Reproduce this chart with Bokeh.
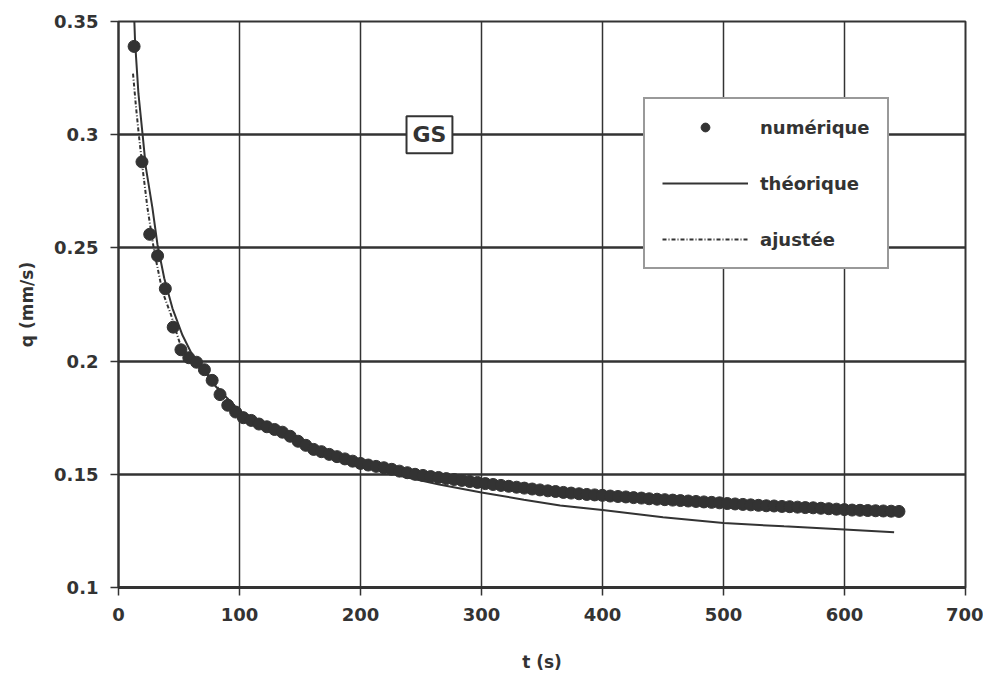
from bokeh.plotting import figure
from bokeh.models import Legend, LegendItem, Label, FixedTicker, NumeralTickFormatter, Range1d
from bokeh.embed import file_html
from bokeh.resources import INLINE

# ---- data ----
t_num = [12.9, 19.4, 25.8, 32.3, 38.7, 45.2, 51.6, 58.1, 64.5, 71.0,
         77.4, 83.9, 90.3, 96.8, 103.2, 109.7, 116.1, 122.6, 129.0, 135.5,
         141.9, 148.4, 154.8, 161.3, 167.7, 174.2, 180.6, 187.1, 193.5, 200.0,
         206.4, 212.9, 219.3, 225.8, 232.2, 238.7, 245.1, 251.6, 258.0, 264.5,
         270.9, 277.4, 283.8, 290.3, 296.7, 303.2, 309.6, 316.1, 322.5, 329.0,
         335.4, 341.9, 348.3, 354.8, 361.2, 367.7, 374.1, 380.6, 387.0, 393.5,
         399.9, 406.4, 412.8, 419.3, 425.7, 432.2, 438.6, 445.1, 451.5, 458.0,
         464.4, 470.9, 477.3, 483.8, 490.2, 496.7, 503.1, 509.6, 516.0, 522.5,
         528.9, 535.4, 541.8, 548.3, 554.7, 561.2, 567.6, 574.1, 580.5, 587.0,
         593.4, 599.9, 606.3, 612.8, 619.2, 625.7, 632.1, 638.6, 645.0]
q_num = [0.339, 0.288, 0.256, 0.2465, 0.232, 0.215, 0.205, 0.2015, 0.1995, 0.1962,
         0.1915, 0.1852, 0.1805, 0.1775, 0.1750, 0.1738, 0.1722, 0.1710, 0.1698, 0.1686,
         0.1668, 0.1646, 0.1628, 0.1610, 0.1600, 0.1588, 0.1578, 0.1568, 0.1558, 0.1548,
         0.1541, 0.1535, 0.1529, 0.1522, 0.1514, 0.1507, 0.1500, 0.1495, 0.1490, 0.1486,
         0.1481, 0.1477, 0.1473, 0.1468, 0.1464, 0.1459, 0.1455, 0.1451, 0.1447, 0.1443,
         0.1439, 0.1435, 0.1431, 0.1427, 0.1424, 0.1420, 0.1417, 0.1414, 0.1411, 0.1409,
         0.1407, 0.1404, 0.1402, 0.1400, 0.1397, 0.1395, 0.1392, 0.1390, 0.1388, 0.1386,
         0.1384, 0.1382, 0.1380, 0.1378, 0.1376, 0.1374, 0.1371, 0.1369, 0.1367, 0.1365,
         0.1363, 0.1361, 0.1360, 0.1358, 0.1357, 0.1355, 0.1353, 0.1352, 0.1350, 0.1348,
         0.1346, 0.1344, 0.1342, 0.1341, 0.1340, 0.1339, 0.1338, 0.1337, 0.1336]

t_theo = [12.9, 13.7, 16.5, 19.8, 22.6, 28.0, 32.2, 37.8, 44.6, 52.9, 61.2, 68.2, 80,
          100, 125, 150, 175, 200, 235, 265, 300, 335, 365, 400, 450, 500, 550, 600, 641]
q_theo = [0.353, 0.341, 0.318, 0.3007, 0.2856, 0.2678, 0.2515, 0.2366, 0.2233, 0.2114,
          0.2025, 0.1975, 0.1890, 0.1780, 0.1700, 0.1640, 0.1585, 0.1540, 0.1490, 0.1455,
          0.1420, 0.1388, 0.1362, 0.1342, 0.1310, 0.1285, 0.1270, 0.1256, 0.1244]

t_ajust = [12.0, 14.5, 17.0, 19.8, 23.9, 29.5, 36.3, 43.3, 50.2, 58.5, 66, 75, 85, 100,
           120, 150, 180, 200, 227, 260, 300, 350, 400, 450, 500, 550, 600, 645]
q_ajust = [0.327, 0.312, 0.299, 0.2856, 0.2678, 0.2485, 0.2307, 0.2206, 0.2087, 0.2013,
           0.1985, 0.1935, 0.1860, 0.1785, 0.1718, 0.1645, 0.1588, 0.1555, 0.1515, 0.1495,
           0.1470, 0.1440, 0.1415, 0.1395, 0.1378, 0.1363, 0.1350, 0.1340]

x_ticks = [0, 100, 200, 300, 400, 500, 600, 700]
y_ticks = [0.1, 0.15, 0.2, 0.25, 0.3, 0.35]
series_names = ["numérique", "théorique", "ajustée"]
tag_text = "GS"
tag_pos = (257, 0.30)

FONT = "DejaVu Sans"
INK = "#333333"

p = figure(width=983, height=674,
           x_range=Range1d(0, 700), y_range=Range1d(0.1, 0.35),
           output_backend="svg", toolbar_location=None,
           min_border_left=118, min_border_right=18,
           min_border_top=21, min_border_bottom=82)

p.background_fill_color = "white"
p.border_fill_color = "white"
p.outline_line_color = INK
p.outline_line_width = 2

# grids
p.xgrid.ticker = FixedTicker(ticks=x_ticks)
p.ygrid.ticker = FixedTicker(ticks=y_ticks)
p.xgrid.grid_line_color = INK
p.xgrid.grid_line_width = 1.5
p.ygrid.grid_line_color = INK
p.ygrid.grid_line_width = 2.5

# axes
p.xaxis.ticker = FixedTicker(ticks=x_ticks)
p.yaxis.ticker = FixedTicker(ticks=y_ticks)
p.yaxis.formatter = NumeralTickFormatter(format="0.0[0]")
p.xaxis.minor_tick_line_color = None
p.yaxis.minor_tick_line_color = None
p.xaxis.major_tick_out = 8
p.xaxis.major_tick_in = 0
p.yaxis.major_tick_out = 8
p.yaxis.major_tick_in = 0
p.xaxis.axis_line_width = 3
p.yaxis.axis_line_width = 2
for ax in (p.xaxis, p.yaxis):
    ax.axis_line_color = INK
    ax.major_tick_line_color = INK
    ax.major_tick_line_width = 1.5
    ax.major_label_text_font = FONT
    ax.major_label_text_font_style = "bold"
    ax.major_label_text_font_size = "18px"
    ax.major_label_text_color = INK
    ax.axis_label_text_font = FONT
    ax.axis_label_text_font_style = "bold"
    ax.axis_label_text_font_size = "17px"
    ax.axis_label_text_color = INK
p.xaxis.major_label_standoff = 12
p.yaxis.major_label_standoff = 12
p.xaxis.axis_label = "t (s)"
p.yaxis.axis_label = "q (mm/s)"
p.xaxis.axis_label_standoff = 28
p.yaxis.axis_label_standoff = 14

# glyphs
r_theo = p.line(t_theo, q_theo, line_color=INK, line_width=2)
r_ajust = p.line(t_ajust, q_ajust, line_color=INK, line_width=2, line_dash="4 2 1 2")
r_num = p.scatter(t_num, q_num, size=12, fill_color=INK, line_color=INK)

legend = Legend(items=[LegendItem(label=series_names[0], renderers=[r_num]),
                       LegendItem(label=series_names[1], renderers=[r_theo]),
                       LegendItem(label=series_names[2], renderers=[r_ajust])],
                location=(525, 318),
                glyph_width=86, glyph_height=22, label_standoff=12,
                label_height=22, spacing=34, padding=17, margin=0,
                label_text_font=FONT, label_text_font_style="bold",
                label_text_font_size="18px", label_text_color=INK,
                border_line_color=INK, border_line_width=2,
                background_fill_color="white", background_fill_alpha=1)
p.add_layout(legend, "center")

tag = Label(x=tag_pos[0], y=tag_pos[1], text=tag_text,
            text_align="center", text_baseline="middle",
            text_font=FONT, text_font_style="bold", text_font_size="22px",
            text_color=INK, background_fill_color="white",
            border_line_color=INK, border_line_width=2, padding=6)
p.add_layout(tag)

open("out.html", "w").write(file_html(p, INLINE))
